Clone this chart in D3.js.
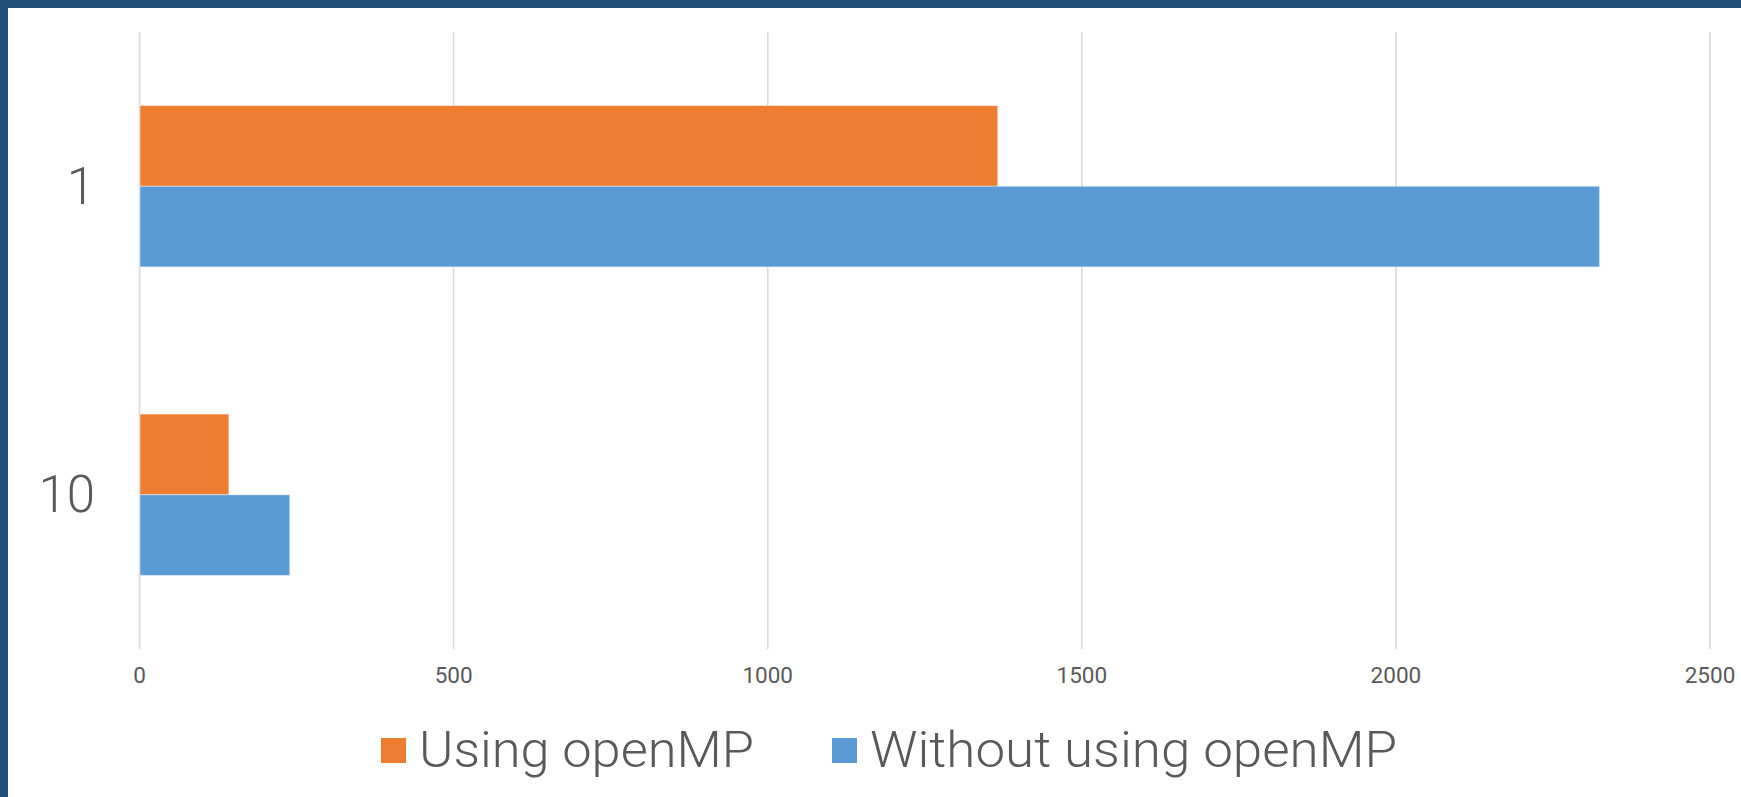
<!DOCTYPE html>
<html>
<head>
<meta charset="utf-8">
<script src="https://cdn.jsdelivr.net/npm/d3@7"></script>
<style>
  html, body { margin: 0; padding: 0; background: #fff; }
  svg { display: block; }
  text { font-family: Roboto, "Noto Sans", sans-serif; font-weight: 300; fill: #595959; }
</style>
</head>
<body>
<svg id="chart" width="1741" height="797"></svg>
<script>
// Run time per thread count (categories) for the two builds
const categories = ["1", "10"];
const seriesNames = ["Using openMP", "Without using openMP"];
const usingOpenMP = [1367, 143];
const withoutOpenMP = [2325, 240];
const xTicks = [0, 500, 1000, 1500, 2000, 2500];
const colors = ["#ED7D31", "#5B9BD5"];

const W = 1741, H = 797;
const svg = d3.select("#chart");

// frame: dark blue edge on the top and left
svg.append("rect").attr("x", 0).attr("y", 0).attr("width", W).attr("height", H).attr("fill", "#fff");
svg.append("rect").attr("x", 0).attr("y", 0).attr("width", W).attr("height", 8).attr("fill", "#1F4E79");
svg.append("rect").attr("x", 0).attr("y", 0).attr("width", 8).attr("height", H).attr("fill", "#1F4E79");

const plot = { left: 139, right: 1709.5, top: 32, bottom: 649 };

const x = d3.scaleLinear().domain([0, 2500]).range([plot.left, plot.right]);
const y = d3.scaleBand().domain(categories).range([plot.top, plot.bottom])
  .paddingInner(0.477).paddingOuter(0.2385);
const ySub = d3.scaleBand().domain(seriesNames).range([0, y.bandwidth()]).padding(0);

// vertical gridlines + tick labels
const xAxis = d3.axisBottom(x).tickValues(xTicks).tickFormat(d3.format("d"))
  .tickSize(-(plot.bottom - plot.top)).tickPadding(18);
const gx = svg.append("g").attr("transform", `translate(0,${plot.bottom})`).call(xAxis);
gx.select(".domain").remove();
gx.selectAll(".tick line").attr("stroke", "#d9d9d9").attr("stroke-width", 1.6);
gx.selectAll(".tick text").attr("font-size", 22.5).attr("fill", "#595959")
  .style("font-family", "Roboto, 'Noto Sans', sans-serif").style("font-weight", 400);

// bars
const rows = categories.map((c, i) => ({ cat: c, values: [usingOpenMP[i], withoutOpenMP[i]] }));
const groups = svg.append("g").selectAll("g").data(rows).join("g")
  .attr("transform", d => `translate(0,${y(d.cat)})`);
groups.selectAll("rect").data(d => d.values.map((v, k) => ({ v, name: seriesNames[k], k })))
  .join("rect")
  .attr("x", x(0) + 1)
  .attr("y", d => ySub(d.name))
  .attr("width", d => x(d.v) - x(0) - 1)
  .attr("height", ySub.bandwidth())
  .attr("fill", d => colors[d.k])
  .attr("stroke", "rgba(255,255,255,0.45)")
  .attr("stroke-width", 1);

// category labels
svg.append("g").selectAll("text").data(categories).join("text")
  .attr("x", 95)
  .attr("y", d => y(d) + y.bandwidth() / 2 + 17.5)
  .attr("text-anchor", "end")
  .attr("font-size", 51)
  .text(d => d);

// legend
const legendItems = [
  { name: seriesNames[0], color: colors[0], sx: 381, tx: 419, tw: 335 },
  { name: seriesNames[1], color: colors[1], sx: 832, tx: 870, tw: 527 }
];
const lg = svg.append("g");
legendItems.forEach(it => {
  lg.append("rect").attr("x", it.sx).attr("y", 738).attr("width", 25).attr("height", 25).attr("fill", it.color);
  lg.append("text").attr("x", it.tx).attr("y", 767).attr("font-size", 50)
    .attr("textLength", it.tw).attr("lengthAdjust", "spacingAndGlyphs")
    .text(it.name);
});
</script>
</body>
</html>
